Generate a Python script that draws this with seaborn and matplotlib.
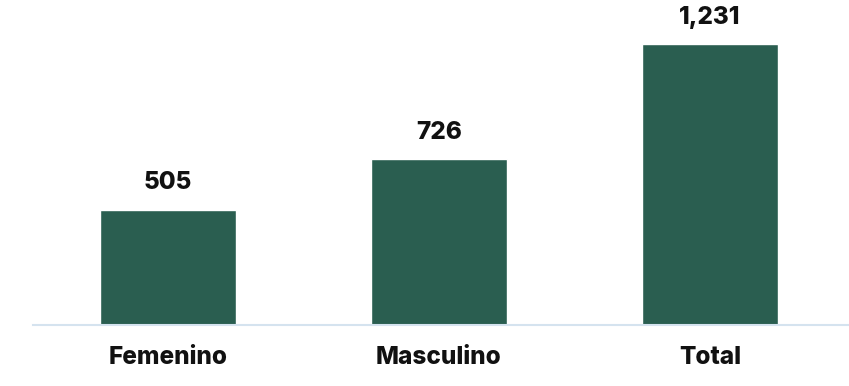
import matplotlib
matplotlib.use("Agg")
import matplotlib.pyplot as plt
import seaborn as sns
import pandas as pd

categories = ["Femenino", "Masculino", "Total"]
values = [505, 726, 1231]
value_labels = ["505", "726", "1,231"]

sns.set_theme(style="white")
plt.rcParams["font.family"] = ["Inter", "DejaVu Sans"]

df = pd.DataFrame({"categoria": categories, "valor": values})

fig = plt.figure(figsize=(8.49, 3.86), dpi=100)
ax = fig.add_axes([33 / 849, 61 / 386, 1 - 33 / 849, 325 / 386])

sns.barplot(data=df, x="categoria", y="valor", color="#2a5e50",
            saturation=1, width=0.5, ax=ax)

ax.set_xlim(-0.498, 2.513)
ax.set_ylim(0, 1424)

for i, (v, lab) in enumerate(zip(values, value_labels)):
    ax.annotate(lab, (i, v), xytext=(0, 11), textcoords="offset points",
                ha="center", va="bottom", fontsize=17.5, fontweight="heavy",
                color="#111111")

for s in ["top", "right", "left"]:
    ax.spines[s].set_visible(False)
ax.spines["bottom"].set_color("#d5e3ef")
ax.spines["bottom"].set_linewidth(1.5)

ax.set_yticks([])
ax.set_xlabel("")
ax.set_ylabel("")
ax.tick_params(axis="x", length=0, pad=15, labelsize=17.5)
for t in ax.get_xticklabels():
    t.set_fontweight("heavy")
    t.set_color("#111111")

fig.savefig("out.png", dpi=100)
